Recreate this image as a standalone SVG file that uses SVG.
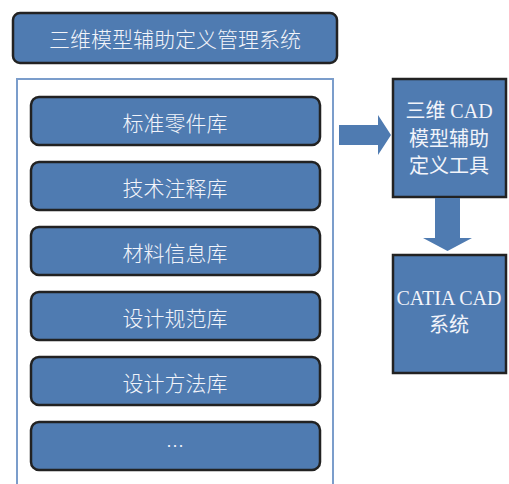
<svg xmlns="http://www.w3.org/2000/svg" width="509" height="484" viewBox="0 0 509 484">
<style>
.box{fill:#4f7bb1;stroke:#222;stroke-width:2.5}
.sq{fill:#4f7bb1;stroke:#222;stroke-width:2.5}
.t{fill:#f2f4fa;font-family:"Noto Sans CJK SC","Liberation Serif",sans-serif;font-weight:300;font-size:21px;text-anchor:middle;dominant-baseline:central}
.s{fill:#f2f4fa;font-family:"Liberation Serif","Noto Sans CJK SC",serif;font-size:20px;text-anchor:middle;dominant-baseline:central}
.arrow{fill:#4f7bb1}
</style>
<rect x="0" y="0" width="509" height="484" fill="#fff"/>
<g id="title">
<rect class="box" x="13" y="13" width="324" height="50" rx="7"/>
<text class="t" x="175" y="38">三维模型辅助定义管理系统</text>
</g>
<g id="container">
<path d="M17 490 V79 H333 V490" fill="#fff" stroke="#7b9dcb" stroke-width="2"/>
</g>
<g id="lib1"><rect class="box" x="31" y="97" width="289" height="48" rx="8"/><text class="t" x="175" y="122">标准零件库</text></g>
<g id="lib2"><rect class="box" x="31" y="162" width="289" height="48" rx="8"/><text class="t" x="175" y="187">技术注释库</text></g>
<g id="lib3"><rect class="box" x="31" y="227" width="289" height="48" rx="8"/><text class="t" x="175" y="252">材料信息库</text></g>
<g id="lib4"><rect class="box" x="31" y="292" width="289" height="48" rx="8"/><text class="t" x="175" y="317">设计规范库</text></g>
<g id="lib5"><rect class="box" x="31" y="357" width="289" height="48" rx="8"/><text class="t" x="175" y="382">设计方法库</text></g>
<g id="lib6"><rect class="box" x="31" y="422" width="289" height="48" rx="8"/><text class="t" x="175" y="445" style="font-size:18px">…</text></g>
<g id="tool">
<rect class="sq" x="393" y="79" width="113" height="118"/>
<text class="s" x="449" y="111">三维 CAD</text>
<text class="s" x="449" y="139">模型辅助</text>
<text class="s" x="449" y="166">定义工具</text>
</g>
<g id="catia">
<rect class="sq" x="393" y="255" width="113" height="118"/>
<text class="s" x="449" y="298">CATIA CAD</text>
<text class="s" x="449" y="325">系统</text>
</g>
<g id="connectors">
<polygon class="arrow" points="339,125 378,125 378,115 391,135 378,155 378,145 339,145"/>
<polygon class="arrow" points="435,198 460,198 460,238 472,238 447.5,251 423,238 435,238"/>
</g>
</svg>
